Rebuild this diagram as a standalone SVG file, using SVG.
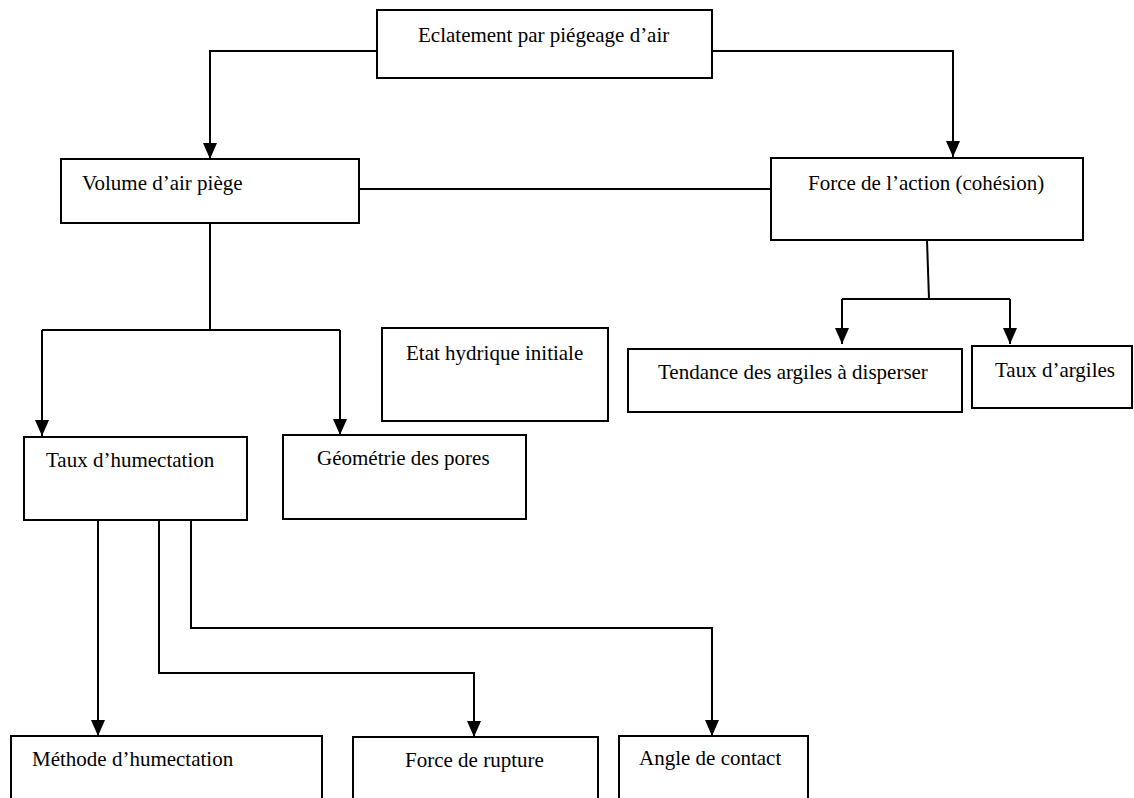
<svg xmlns="http://www.w3.org/2000/svg" width="1134" height="798" viewBox="0 0 1134 798">
<style>
.box{fill:#fff;stroke:#000;stroke-width:2}
.lbl{font-family:"Liberation Serif","Times New Roman",serif;font-size:21px;fill:#000}
.ln{fill:none;stroke:#000;stroke-width:2}
</style>
<defs>
<marker id="ah" markerUnits="userSpaceOnUse" viewBox="0 0 16 14" refX="16" refY="7" markerWidth="16" markerHeight="14" orient="auto">
<path d="M0,0 L16,7 L0,14 z" fill="#000"/>
</marker>
</defs>
<rect width="1134" height="798" fill="#fff"/>
<g id="connectors">
<path class="ln" d="M377,51 H210 V159" marker-end="url(#ah)"/>
<path class="ln" d="M712,51 H953 V157" marker-end="url(#ah)"/>
<path class="ln" d="M359,189 H771"/>
<path class="ln" d="M210,223 V330"/>
<path class="ln" d="M42,330 H340"/>
<path class="ln" d="M42,330 V436" marker-end="url(#ah)"/>
<path class="ln" d="M340,330 V435" marker-end="url(#ah)"/>
<path class="ln" d="M927,240 L929,299"/>
<path class="ln" d="M842,299 H1010"/>
<path class="ln" d="M842,299 V344" marker-end="url(#ah)"/>
<path class="ln" d="M1010,299 V344" marker-end="url(#ah)"/>
<path class="ln" d="M98,520 V736" marker-end="url(#ah)"/>
<path class="ln" d="M159,520 V673 H474 V737" marker-end="url(#ah)"/>
<path class="ln" d="M191,520 V628 H712 V736" marker-end="url(#ah)"/>
</g>
<g id="n-eclatement"><rect class="box" x="377" y="10" width="335" height="68"/><text class="lbl" x="418" y="42">Eclatement par piégeage d’air</text></g>
<g id="n-volume"><rect class="box" x="61" y="159" width="298" height="64"/><text class="lbl" x="82" y="190">Volume d’air piège</text></g>
<g id="n-force"><rect class="box" x="771" y="158" width="312" height="82"/><text class="lbl" x="808" y="190">Force de l’action (cohésion)</text></g>
<g id="n-etat"><rect class="box" x="382" y="328" width="226" height="93"/><text class="lbl" x="406" y="360">Etat hydrique initiale</text></g>
<g id="n-tendance"><rect class="box" x="628" y="349" width="334" height="63"/><text class="lbl" x="658" y="379">Tendance des argiles à disperser</text></g>
<g id="n-tauxargiles"><rect class="box" x="972" y="346" width="160" height="62"/><text class="lbl" x="995" y="377">Taux d’argiles</text></g>
<g id="n-tauxhum"><rect class="box" x="24" y="437" width="223" height="83"/><text class="lbl" x="46" y="467">Taux d’humectation</text></g>
<g id="n-geometrie"><rect class="box" x="283" y="435" width="243" height="84"/><text class="lbl" x="317" y="465">Géométrie des pores</text></g>
<g id="n-methode"><rect class="box" x="11" y="736" width="311" height="80"/><text class="lbl" x="32" y="766">Méthode d’humectation</text></g>
<g id="n-rupture"><rect class="box" x="353" y="737" width="245" height="80"/><text class="lbl" x="405" y="767">Force de rupture</text></g>
<g id="n-angle"><rect class="box" x="619" y="736" width="189" height="80"/><text class="lbl" x="639" y="765">Angle de contact</text></g>
</svg>
